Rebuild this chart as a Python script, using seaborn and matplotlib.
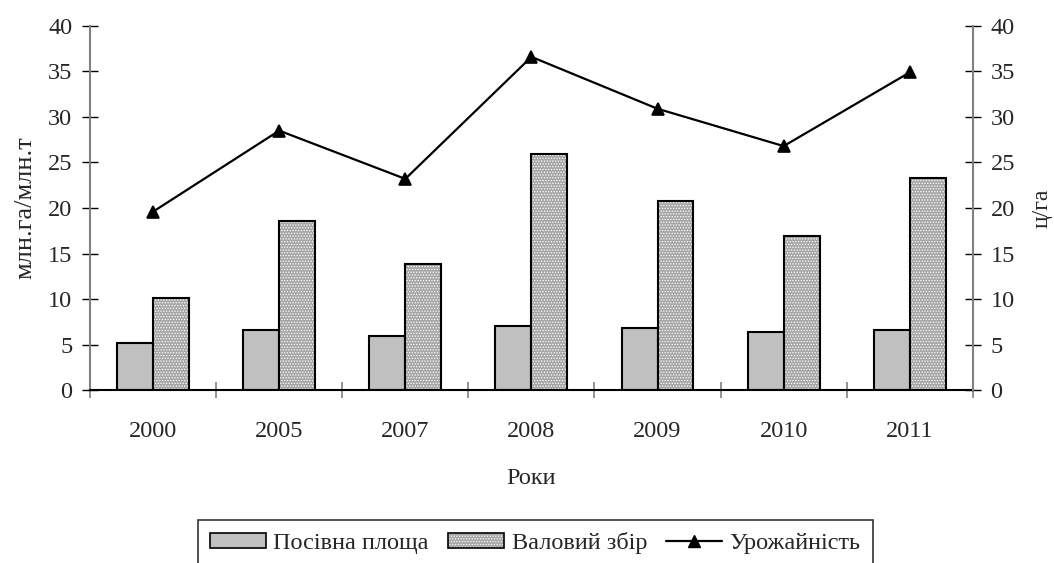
import seaborn as sns
import matplotlib.pyplot as plt
import pandas as pd
from matplotlib.lines import Line2D
from matplotlib.patches import Patch

# data
years = ["2000", "2005", "2007", "2008", "2009", "2010", "2011"]
area = [5.2, 6.6, 5.9, 7.0, 6.8, 6.4, 6.6]          # Посівна площа, млн.га
harvest = [10.1, 18.6, 13.8, 25.9, 20.8, 16.9, 23.3]  # Валовий збір, млн.т
yield_ = [19.6, 28.5, 23.2, 36.6, 30.9, 26.8, 34.9]   # Урожайність, ц/га

series_names = ["Посівна площа", "Валовий збір", "Урожайність"]

sns.set_theme(style="white")
plt.rcParams["font.family"] = ["Liberation Serif", "DejaVu Serif"]
plt.rcParams["hatch.linewidth"] = 0.6

df = pd.DataFrame({
    "year": years * 2,
    "value": area + harvest,
    "series": [series_names[0]] * len(years) + [series_names[1]] * len(years),
})

fig, ax = plt.subplots(figsize=(10.54, 5.63), dpi=100)
fig.subplots_adjust(left=0.0854, right=0.923, top=0.954, bottom=0.307)

sns.barplot(data=df, x="year", y="value", hue="series", order=years,
            hue_order=series_names[:2], palette=["#c0c0c0", "#a6a6a6"],
            width=0.57, gap=0, edgecolor="black", linewidth=1.5,
            saturation=1, legend=False, ax=ax)

# dotted texture on the second series
n = len(years)
for p in ax.patches[n:2 * n]:
    p.set_hatch("......")
    p._hatch_color = (1, 1, 1, 1)

ax2 = ax.twinx()
sns.pointplot(x=years, y=yield_, color="black", markers="^", linestyles="-",
              markersize=9, linewidth=1.6, ax=ax2)

fs = 17.5
for a in (ax, ax2):
    a.set_ylim(0, 40)
    a.set_yticks(range(0, 41, 5))
    a.tick_params(axis="y", direction="inout", length=11.5, width=1,
                  color="black", labelsize=fs, pad=7)
    a.spines["top"].set_visible(False)
    a.spines["left"].set_color("#808080")
    a.spines["right"].set_color("#808080")
    a.spines["left"].set_linewidth(1.5)
    a.spines["right"].set_linewidth(1.5)
    a.spines["bottom"].set_color("black")
    a.spines["bottom"].set_linewidth(1.5)
ax.spines["right"].set_visible(False)
ax2.spines["left"].set_visible(False)
ax2.spines["bottom"].set_visible(False)

ax.set_xlim(-0.5, n - 0.5)
ax.set_xticks(range(n))
ax.set_xticklabels(years)
ax.set_xticks([i - 0.5 for i in range(n + 1)], minor=True)
ax.tick_params(axis="x", which="major", length=0, labelsize=fs, pad=22)
ax.tick_params(axis="x", which="minor", direction="inout", length=12,
               width=1.2, color="#808080", bottom=True)
ax2.tick_params(axis="x", which="both", length=0)

ax.set_xlabel("Роки", fontsize=fs, labelpad=19)
ax.set_ylabel("млн.га/млн.т", fontsize=19, labelpad=8)
ax2.set_ylabel("ц/га", fontsize=17, labelpad=12)
ax.grid(False)
ax2.grid(False)

handles = [
    Patch(facecolor="#c0c0c0", edgecolor="black", linewidth=1.2),
    Patch(facecolor="#a6a6a6", edgecolor="black", linewidth=1.2, hatch="......"),
    Line2D([0], [0], color="black", marker="^", markersize=9, linewidth=1.6),
]
handles[1]._hatch_color = (1, 1, 1, 1)
leg = fig.legend(handles, series_names, loc="upper center",
                 bbox_to_anchor=(0.508, 0.077), ncol=3, fontsize=fs,
                 frameon=True, fancybox=False, handlelength=2.3,
                 handleheight=0.55, handletextpad=0.3, columnspacing=0.8,
                 borderpad=0.5, borderaxespad=0)
leg.get_frame().set_edgecolor("black")
leg.get_frame().set_linewidth(1.2)

fig.savefig("out.png", dpi=100)
